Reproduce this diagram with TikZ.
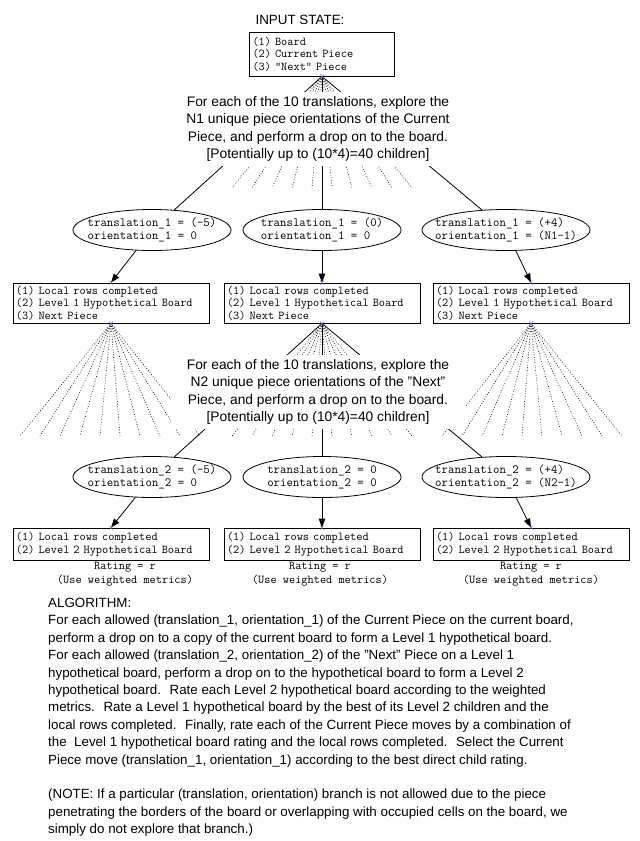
\documentclass[tikz,border=0pt]{standalone}
\usepackage{fontspec}
\setmainfont{Liberation Sans}
\usetikzlibrary{arrows.meta,shapes.geometric,shapes.misc}
\definecolor{portblue}{RGB}{110,110,225}
% two left-aligned lines, zero width so the ellipse keeps its own size
\newcommand{\ovaltext}[2]{\makebox[0pt]{\begin{tabular}{@{}l@{}}#1\\#2\end{tabular}}}

\begin{document}
\begin{tikzpicture}[x=1pt, y=-1pt, >={Triangle[length=9pt,width=6.5pt]},
    statebox/.style={draw, line width=0.8pt, align=left, inner xsep=3pt, inner ysep=2pt,
        font=\ttfamily\fontsize{12}{12.5}\selectfont},
    movenode/.style={draw, ellipse, line width=0.8pt, minimum width=158pt, minimum height=41pt,
        inner sep=0pt, font=\ttfamily\fontsize{12.5}{13}\selectfont},
    notetext/.style={fill=white, align=center, inner xsep=16pt, inner ysep=4pt,
        font=\fontsize{13.8}{17.5}\selectfont},
    branch/.style={line width=0.8pt},
    unexplored/.style={line width=0.6pt, dash pattern=on 0.8pt off 1.8pt},
    portmark/.style={cross out, draw=portblue, line width=0.5pt, minimum size=3.5pt, inner sep=0pt}]
    \fill[white] (0,0) rectangle (640,841);
    \useasboundingbox (0,0) rectangle (640,841);

    % input state
    \node[font=\fontsize{13.4}{15}\selectfont] (title) at (300,20) {INPUT STATE:};
    \node[statebox, text width=139pt, minimum height=44pt] (root) at (322,54)
        {(1) Board\\(2) Current Piece\\(3) "Next" Piece};

    % level 1 moves and boards
    \node[movenode] (m1a) at (152,230) {\ovaltext{translation\_1 = (-5)}{orientation\_1 = 0}};
    \node[movenode] (m1b) at (322,230) {\ovaltext{translation\_1 = (0)}{orientation\_1 = 0}};
    \node[movenode, minimum width=168pt] (m1c) at (506,230) {\ovaltext{translation\_1 = (+4)}{orientation\_1 = (N1-1)}};
    \node[statebox, text width=190pt, minimum height=40pt] (b1a) at (111,303)
        {(1) Local rows completed\\(2) Level 1 Hypothetical Board\\(3) Next Piece};
    \node[statebox, text width=190pt, minimum height=40pt] (b1b) at (322,303)
        {(1) Local rows completed\\(2) Level 1 Hypothetical Board\\(3) Next Piece};
    \node[statebox, text width=190pt, minimum height=40pt] (b1c) at (531,303)
        {(1) Local rows completed\\(2) Level 1 Hypothetical Board\\(3) Next Piece};

    % level 2 moves and boards
    \node[movenode] (m2a) at (152,477) {\ovaltext{translation\_2 = (-5)}{orientation\_2 = 0}};
    \node[movenode] (m2b) at (322,477) {\ovaltext{translation\_2 = 0}{orientation\_2 = 0}};
    \node[movenode, minimum width=168pt] (m2c) at (506,477) {\ovaltext{translation\_2 = (+4)}{orientation\_2 = (N2-1)}};
    \node[statebox, text width=190pt, minimum height=32pt] (b2a) at (111,544)
        {(1) Local rows completed\\(2) Level 2 Hypothetical Board};
    \node[statebox, text width=190pt, minimum height=32pt] (b2b) at (322,544)
        {(1) Local rows completed\\(2) Level 2 Hypothetical Board};
    \node[statebox, text width=190pt, minimum height=32pt] (b2c) at (531,544)
        {(1) Local rows completed\\(2) Level 2 Hypothetical Board};
    \foreach \b/\x in {a/125, b/320, c/531}
        \node[font=\ttfamily\fontsize{12}{14}\selectfont, align=center] (r2\b) at (\x,574)
            {Rating = r\\(Use weighted metrics)};

    % children that are not explored
    \foreach \i in {0,...,9} {
        \coordinate (t\i) at ({232+20*\i},188);
        \coordinate (la\i) at ({20+20*\i},436);
        \coordinate (lb\i) at ({232+20*\i},436);
        \coordinate (lc\i) at ({442+20*\i},436);
    }
    \foreach \i in {0,...,9} {
        \draw[unexplored] (root.south) -- (t\i);
        \draw[unexplored] (b1a.south) -- (la\i);
        \draw[unexplored] (b1b.south) -- (lb\i);
        \draw[unexplored] (b1c.south) -- (lc\i);
    }

    % explored branches
    \foreach \m in {m1a,m1b,m1c}
        \draw[branch] (root.south) -- (\m);
    \foreach \m in {m2a,m2b,m2c}
        \draw[branch] (b1b.south) -- (\m);
    \draw[branch,->] (m1a) -- (b1a.north);
    \draw[branch,->] (m1b) -- (b1b.north);
    \draw[branch,->] (m1c) -- (b1c.north);
    \draw[branch,->] (m2a) -- (b2a.north);
    \draw[branch,->] (m2b) -- (b2b.north);
    \draw[branch,->] (m2c) -- (b2c.north);
    \foreach \p [count=\k] in {root.south, b1a.north, b1b.north, b1c.north, b1a.south,
            b1b.south, b1c.south, b2a.north, b2b.north, b2c.north}
        \node[portmark] (pm\k) at (\p) {};

    % labels on the fans, drawn over the lines
    \node[notetext, anchor=north] (explore1) at (318,92)
        {For each of the 10 translations, explore the\\N1 unique piece orientations of the Current\\
         Piece, and perform a drop on to the board.\\{[Potentially up to (10*4)=40 children]}};
    \node[notetext, anchor=north] (explore2) at (318,355)
        {For each of the 10 translations, explore the\\N2 unique piece orientations of the "Next"\\
         Piece, and perform a drop on to the board.\\{[Potentially up to (10*4)=40 children]}};

    % algorithm
    \node[anchor=north west, align=left, inner sep=0pt, font=\fontsize{13.35}{17.4}\selectfont] (algo) at (48,598)
        {ALGORITHM:\\
         For each allowed (translation\_1, orientation\_1) of the Current Piece on the current board,\\
         perform a drop on to a copy of the current board to form a Level 1 hypothetical board.\\
         For each allowed (translation\_2, orientation\_2) of the "Next" Piece on a Level 1\\
         hypothetical board, perform a drop on to the hypothetical board to form a Level 2\\
         hypothetical board.~ Rate each Level 2 hypothetical board according to the weighted\\
         metrics.~ Rate a Level 1 hypothetical board by the best of its Level 2 children and the\\
         local rows completed.~ Finally, rate each of the Current Piece moves by a combination of\\
         the~ Level 1 hypothetical board rating and the local rows completed.~ Select the Current\\
         Piece move (translation\_1, orientation\_1) according to the best direct child rating.\\[17.4pt]
         (NOTE: If a particular (translation, orientation) branch is not allowed due to the piece\\
         penetrating the borders of the board or overlapping with occupied cells on the board, we\\
         simply do not explore that branch.)};
\end{tikzpicture}
\end{document}
